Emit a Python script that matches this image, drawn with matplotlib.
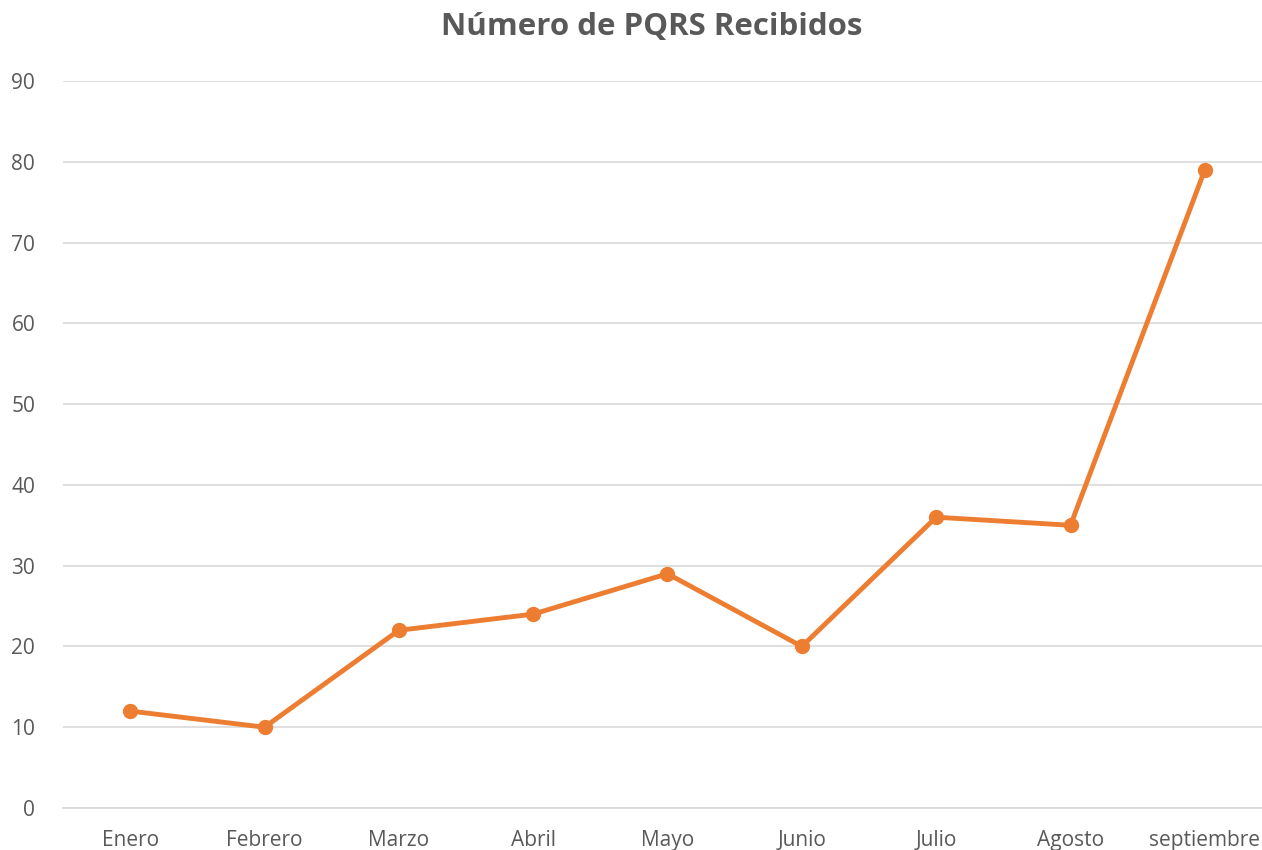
import matplotlib
matplotlib.use("Agg")
import matplotlib.pyplot as plt

months = ["Enero", "Febrero", "Marzo", "Abril", "Mayo", "Junio", "Julio", "Agosto", "septiembre"]
values = [12, 10, 22, 24, 29, 20, 36, 35, 79]
yticks = [0, 10, 20, 30, 40, 50, 60, 70, 80, 90]

plt.rcParams['font.family'] = ['Open Sans', 'DejaVu Sans']

fig = plt.figure(figsize=(12.62, 8.5), dpi=100)
ax = fig.add_axes([63/1262, 1-808/850, (1272-63)/1262, (808-81)/850])

x = list(range(len(months)))
ax.plot(x, values, color="#ED7D31", linewidth=3.5, marker="o", markersize=10,
        solid_capstyle="round", solid_joinstyle="round", zorder=3, clip_on=False)

ax.set_xlim(-0.5, len(months) - 0.5)
ax.set_ylim(0, 90)
ax.set_yticks(yticks)
ax.set_xticks(x)
ax.set_xticklabels(months)
ax.grid(axis="y", color="#D9D9D9", linewidth=1.2)
ax.set_axisbelow(True)
for s in ["top", "right", "left"]:
    ax.spines[s].set_visible(False)
ax.spines["bottom"].set_color("#D9D9D9")
ax.spines["bottom"].set_linewidth(1.2)
ax.tick_params(axis="both", length=0, colors="#595959", labelsize=15)
ax.tick_params(axis="y", pad=20)
ax.tick_params(axis="x", pad=16)

fig.text(652/1262, 1-27/850, "Número de PQRS Recibidos", ha="center", va="center",
         fontsize=22.5, fontweight="bold", color="#595959")

fig.savefig("out.png", dpi=100)
